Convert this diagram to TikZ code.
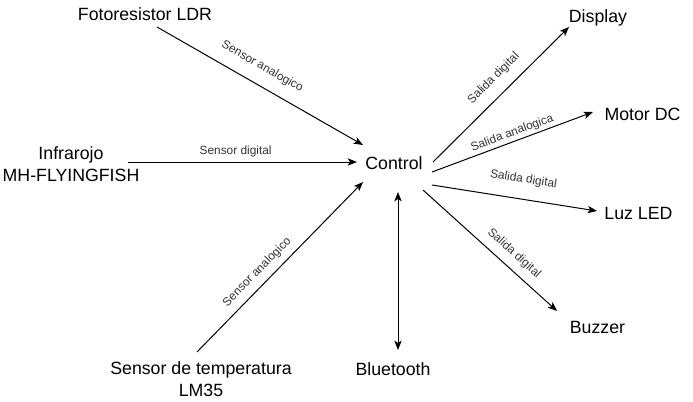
\documentclass[tikz,border=0pt]{standalone}
\usepackage{fontspec}
\setmainfont{Liberation Sans}
\usetikzlibrary{arrows.meta,positioning}

\tikzset{
  block/.style={font=\fontsize{13.3}{16.5}\selectfont, anchor=base, inner sep=2pt},
  wire/.style={line width=0.75pt, ->},
  tag/.style={font=\fontsize{8.9}{10.7}\selectfont, text=black!80, sloped, inner sep=1pt},
}

\begin{document}
\begin{tikzpicture}[x=0.75pt,y=-0.75pt,>={Stealth[length=7pt,width=5.5pt,inset=1.8pt]}]
\useasboundingbox (0,0) rectangle (693,401);

% Central node
\node[block] (ctrl) at (394,169) {Control};

% Inputs
\node[block] (ldr) at (145,20) {Fotoresistor LDR};
\node[block, anchor=center, align=center] (ir) at (71,164.5) {Infrarojo\\MH-FLYINGFISH};
\node[block, anchor=center, align=center] (temp) at (201,379.5) {Sensor de temperatura\\LM35};
\node[block] (bt) at (393,375) {Bluetooth};

% Outputs
\node[block] (disp) at (598,22) {Display};
\node[block] (motor) at (642.5,120) {Motor DC};
\node[block] (led) at (638.5,219) {Luz LED};
\node[block] (buzz) at (597.5,333) {Buzzer};

% Sensors into control
\draw[wire] ([shift={(12,7)}]ldr.base) -- ([shift={(-31,-24)}]ctrl.base)
  node[tag, pos=0.468, above=7.9pt] {Sensor analogico};
\draw[wire] ([shift={(57,-2.5)}]ir.center) -- ([shift={(-37,-7)}]ctrl.base)
  node[tag, pos=0.47, above=2.7pt] {Sensor digital};
\draw[wire] ([shift={(-4,-27.5)}]temp.center) -- ([shift={(-31,13)}]ctrl.base)
  node[tag, pos=0.418, above=4pt] {Sensor analogico};

% Bluetooth both ways
\draw[wire, <->] ([shift={(4,23)}]ctrl.base) -- ([shift={(5,-25)}]bt.base);

% Control out to actuators
\draw[wire] ([shift={(39,-7)}]ctrl.base) -- ([shift={(-29,5)}]disp.base)
  node[tag, pos=0.533, above=7pt] {Salida digital};
\draw[wire] ([shift={(38,3)}]ctrl.base) -- ([shift={(-49.5,-8)}]motor.base)
  node[tag, pos=0.517, above=0.8pt] {Salida analogica};
\draw[wire] ([shift={(38,16)}]ctrl.base) -- ([shift={(-41.5,-8)}]led.base)
  node[tag, pos=0.536, above=9.2pt] {Salida digital};
\draw[wire] ([shift={(29,21)}]ctrl.base) -- ([shift={(-40.5,-22)}]buzz.base)
  node[tag, pos=0.61, above=4.9pt] {Salida digital};
\end{tikzpicture}
\end{document}
